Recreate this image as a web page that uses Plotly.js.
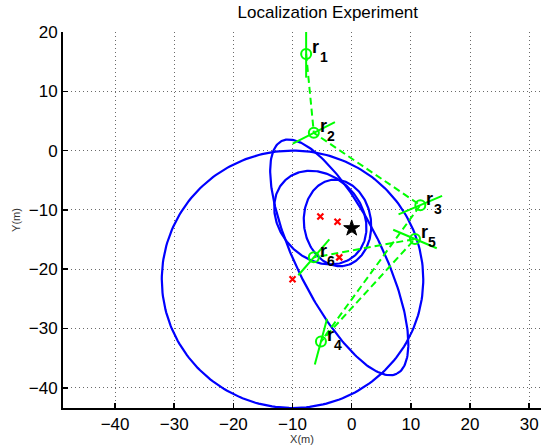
<!DOCTYPE html>
<html>
<head>
<meta charset="utf-8">
<script src="https://cdn.plot.ly/plotly-3.0.1.min.js"></script>
<style>html,body{margin:0;padding:0;background:#fff;}</style>
</head>
<body>
<div id="chart" style="width:545px;height:445px;"></div>
<script>
// ---- Data ----
const receiverLabels = ['1', '2', '3', '4', '5', '6'];
const receiverX = [-7.7, -6.4, 11.6, -5.2, 10.7, -6.4];
const receiverY = [16.3, 3.0, -9.2, -32.2, -14.9, -18.0];
const receiverAngleDeg = [90, 27, 23, 75, -23, 49];
const receiverHalfLen = [4.0, 4.0, 4.0, 4.0, 4.0, 4.0];

const estimateX = [-5.3, -2.4, -2.1, -10.0];
const estimateY = [-11.1, -12.0, -18.0, -21.7];

const ellipseCX = [-10.0, -2.1, -5.3, -2.4];
const ellipseCY = [-21.7, -18.0, -11.3, -12.2];
const ellipseA = [22.1, 21.9, 8.66, 7.33];
const ellipseB = [21.7, 7.2, 6.94, 5.67];
const ellipseAngleDeg = [0, -63.6, -46.7, -82.2];

const trueX = [0];
const trueY = [-13.1];

const xTicks = [-40, -30, -20, -10, 0, 10, 20, 30];
const yTicks = [-40, -30, -20, -10, 0, 10, 20];

// ---- Build traces ----
const FONT = 'Liberation Sans, Arial, Helvetica, sans-serif';
const GREEN = '#00ff00';
const traces = [];

// ellipses
for (let i = 0; i < ellipseCX.length; i++) {
  const xs = [], ys = [];
  const phi = ellipseAngleDeg[i] * Math.PI / 180;
  const N = 240;
  for (let k = 0; k <= N; k++) {
    const t = 2 * Math.PI * k / N;
    const ex = ellipseA[i] * Math.cos(t), ey = ellipseB[i] * Math.sin(t);
    xs.push(ellipseCX[i] + ex * Math.cos(phi) - ey * Math.sin(phi));
    ys.push(ellipseCY[i] + ex * Math.sin(phi) + ey * Math.cos(phi));
  }
  traces.push({x: xs, y: ys, mode: 'lines', line: {color: '#0000ff', width: 2.2}, hoverinfo: 'skip'});
}

// dashed path between receivers
traces.push({x: receiverX, y: receiverY, mode: 'lines',
  line: {color: GREEN, width: 2, dash: '7px,4px'}, hoverinfo: 'skip'});

// orientation segments
const sx = [], sy = [];
for (let i = 0; i < receiverX.length; i++) {
  const a = receiverAngleDeg[i] * Math.PI / 180, h = receiverHalfLen[i];
  sx.push(receiverX[i] - h * Math.cos(a), receiverX[i] + h * Math.cos(a), null);
  sy.push(receiverY[i] - h * Math.sin(a), receiverY[i] + h * Math.sin(a), null);
}
traces.push({x: sx, y: sy, mode: 'lines', line: {color: GREEN, width: 2}, hoverinfo: 'skip'});

// receivers
traces.push({x: receiverX, y: receiverY, mode: 'markers',
  marker: {symbol: 'circle-open', size: 10, color: GREEN, line: {color: GREEN, width: 2}}});

// estimates
traces.push({x: estimateX, y: estimateY, mode: 'markers',
  marker: {symbol: 'x-thin-open', size: 6, color: '#ff0000', line: {color: '#ff0000', width: 2.2}}});

// true position
traces.push({x: trueX, y: trueY, mode: 'markers',
  marker: {symbol: 'star', size: 12, color: '#000000', line: {color: '#000000', width: 1}}});

// labels: "r" with a lowered index
const annotations = [];
receiverLabels.forEach((lab, i) => {
  annotations.push({
    x: receiverX[i], y: receiverY[i], xref: 'x', yref: 'y',
    text: '<b>r</b>', showarrow: false,
    xanchor: 'left', yanchor: 'middle', xshift: 4, yshift: 6.5,
    font: {family: FONT, size: 18, color: '#000'}
  });
  annotations.push({
    x: receiverX[i], y: receiverY[i], xref: 'x', yref: 'y',
    text: '<b>' + lab + '</b>', showarrow: false,
    xanchor: 'left', yanchor: 'middle', xshift: 11.5, yshift: -3.5,
    font: {family: FONT, size: 14, color: '#000'}
  });
});

const layout = {
  width: 545, height: 445,
  margin: {l: 63, r: 4, t: 32, b: 37, pad: 0},
  paper_bgcolor: '#fff', plot_bgcolor: '#fff',
  showlegend: false,
  font: {family: FONT, color: '#000'},
  title: {text: 'Localization Experiment', font: {family: FONT, size: 17, color: '#000'},
    x: 0.554, xref: 'paper', xanchor: 'center', y: 1 - 12.5 / 445, yref: 'container', yanchor: 'middle'},
  xaxis: {
    range: [-48.8, 32], tickvals: xTicks, ticktext: xTicks.map(v => v < 0 ? '\u2212' + Math.abs(v) : String(v)),
    showline: true, linecolor: '#000', linewidth: 2, mirror: false,
    ticks: 'inside', ticklen: 5, tickwidth: 1.5, tickcolor: '#000',
    showgrid: true, gridcolor: '#6a6a6a', griddash: '1px,3px', gridwidth: 1,
    zeroline: false, tickfont: {family: FONT, size: 17, color: '#000'},
    ticklabelstandoff: 0,
    title: {text: 'X(m)', font: {family: FONT, size: 11, color: '#333'}, standoff: 1},
    automargin: false, fixedrange: true
  },
  yaxis: {
    range: [-43.4, 20], tickvals: yTicks, ticktext: yTicks.map(v => v < 0 ? '\u2212' + Math.abs(v) : String(v)),
    showline: true, linecolor: '#000', linewidth: 2, mirror: false,
    ticks: 'inside', ticklen: 5, tickwidth: 1.5, tickcolor: '#000',
    showgrid: true, gridcolor: '#6a6a6a', griddash: '1px,3px', gridwidth: 1,
    zeroline: false, tickfont: {family: FONT, size: 17, color: '#000'},
    ticklabelstandoff: 0,
    title: {text: 'Y(m)', font: {family: FONT, size: 11, color: '#333'}, standoff: 6},
    automargin: false, fixedrange: true
  },
  annotations: annotations
};

Plotly.newPlot('chart', traces, layout, {displayModeBar: false, staticPlot: true});
</script>
</body>
</html>
